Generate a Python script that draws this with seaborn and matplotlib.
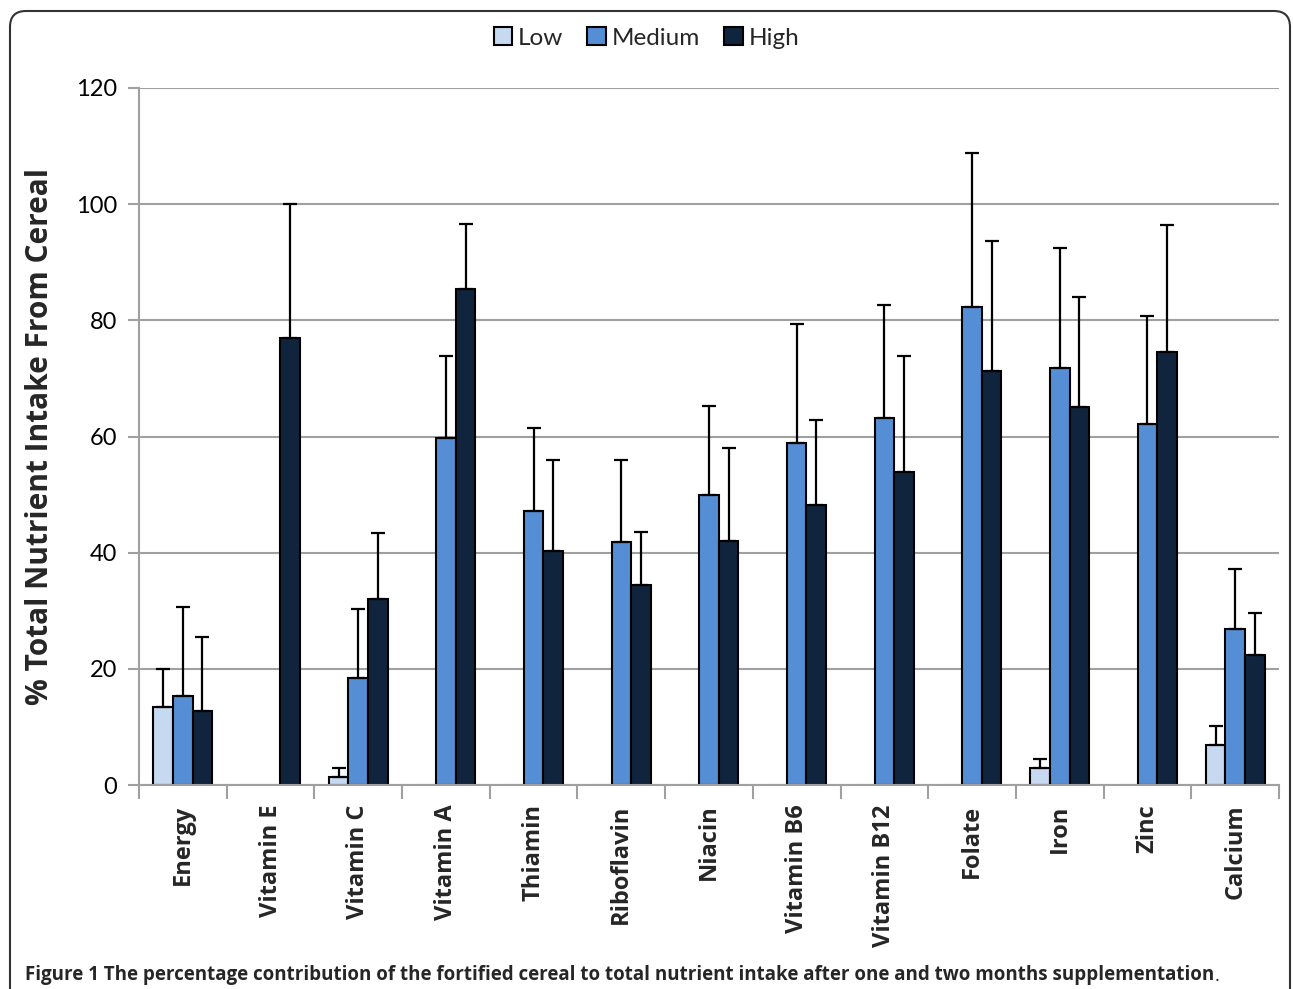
import numpy as np
import pandas as pd
import matplotlib
matplotlib.use("Agg")
import matplotlib.pyplot as plt
import seaborn as sns
from matplotlib.patches import FancyBboxPatch
from matplotlib.transforms import IdentityTransform
from matplotlib.ticker import FixedLocator

# ---- data ----
nutrients = ["Energy", "Vitamin E", "Vitamin C", "Vitamin A", "Thiamin", "Riboflavin",
             "Niacin", "Vitamin B6", "Vitamin B12", "Folate", "Iron", "Zinc", "Calcium"]
groups = ["Low", "Medium", "High"]
low_vals = [13.4, 0, 1.3, 0, 0, 0, 0, 0, 0, 0, 3.0, 0, 6.9]
low_err = [6.6, 0, 1.6, 0, 0, 0, 0, 0, 0, 0, 1.4, 0, 3.3]
med_vals = [15.3, 0, 18.5, 59.7, 47.2, 41.9, 49.9, 58.8, 63.1, 82.3, 71.8, 62.2, 26.8]
med_err = [15.3, 0, 11.8, 14.2, 14.3, 14.1, 15.4, 20.6, 19.6, 26.5, 20.7, 18.6, 10.4]
high_vals = [12.7, 77.0, 32.0, 85.4, 40.3, 34.4, 42.0, 48.2, 53.9, 71.3, 65.1, 74.5, 22.4]
high_err = [12.7, 23.0, 11.4, 11.2, 15.6, 9.2, 16.1, 14.6, 20.0, 22.4, 18.9, 21.9, 7.2]
y_ticks = [0, 20, 40, 60, 80, 100, 120]
y_label = "% Total Nutrient Intake From Cereal"
caption_bold = "Figure 1 The percentage contribution of the fortified cereal to total nutrient intake after one and two months supplementation"
caption_end = "."

colors = {"Low": "#C6D9F1", "Medium": "#558ED5", "High": "#10243E"}

rows = []
for g, vals, errs in [("Low", low_vals, low_err), ("Medium", med_vals, med_err), ("High", high_vals, high_err)]:
    for n, v, e in zip(nutrients, vals, errs):
        rows.append({"Nutrient": n, "Group": g, "Value": v, "Err": e})
df = pd.DataFrame(rows)

sns.set_theme(style="white")
plt.rcParams["font.family"] = ["Lato", "DejaVu Sans"]

fig = plt.figure(figsize=(12.93, 9.89), dpi=100)
ax = fig.add_axes([139/1293, 1-785/989, (1279-139)/1293, (785-88)/989])

sns.barplot(data=df, x="Nutrient", y="Value", hue="Group", order=nutrients, hue_order=groups,
            palette=colors, width=0.67, gap=0, errorbar=None, edgecolor="black", linewidth=1.5,
            saturation=1, ax=ax)

# zero-height bars show as faint grey dashes on the baseline
for cont in ax.containers:
    for patch in cont.patches:
        if patch.get_height() == 0:
            patch.set_edgecolor("#A0A0A0")

# error bars (upper only)
for gi, g in enumerate(groups):
    cont = ax.containers[gi]
    sub = df[df["Group"] == g].set_index("Nutrient").loc[nutrients]
    for patch, (v, e) in zip(cont.patches, zip(sub["Value"], sub["Err"])):
        if e <= 0:
            continue
        xc = patch.get_x() + patch.get_width() / 2
        ax.errorbar([xc], [v], yerr=[[0], [e]], fmt="none", ecolor="black",
                    elinewidth=1.6, capsize=5, capthick=1.6, zorder=3)

handles, labels = ax.get_legend_handles_labels()
if ax.get_legend() is not None:
    ax.get_legend().remove()

ax.set_ylim(0, 120)
ax.set_xlim(-0.5, len(nutrients) - 0.5)
ax.yaxis.set_major_locator(FixedLocator(y_ticks))
ax.grid(axis="y", color="#A0A0A0", linewidth=1.5)
ax.set_axisbelow(True)
for s in ["top", "right"]:
    ax.spines[s].set_visible(False)
for s in ["left", "bottom"]:
    ax.spines[s].set_color("#A0A0A0")
    ax.spines[s].set_linewidth(1.5)

ax.tick_params(axis="y", which="major", left=True, length=8, width=1.5, color="#A0A0A0",
               labelsize=17, pad=8, labelcolor="black")
ax.set_yticklabels([str(t) for t in y_ticks], fontfamily="Lato")

ax.set_xticks(range(len(nutrients)))
ax.set_xticklabels(nutrients, rotation=90, fontsize=17, fontweight="bold",
                   fontfamily="Open Sans", va="top", ha="center")
ax.tick_params(axis="x", which="major", length=0, pad=14)
ax.xaxis.set_minor_locator(FixedLocator(np.arange(-0.5, len(nutrients), 1.0)))
ax.tick_params(axis="x", which="minor", bottom=True, length=10, width=1.5, color="#A0A0A0")

ax.set_xlabel("")
ax.set_ylabel(y_label, fontsize=21.5, fontweight="bold", fontfamily="Open Sans")
ax.yaxis.set_label_coords((40 - 139) / 1140, 0.5)
ax.yaxis.label.set_va("center")

fig.legend(handles, labels, loc="center", bbox_to_anchor=(0.5, 1-38/989), ncol=3,
           frameon=False, handlelength=0.75, handleheight=0.75,
           handletextpad=0.25, columnspacing=1.0, prop={"family": "Lato", "size": 17.5})

# caption
t1 = fig.text(25/1293, 1-980/989, caption_bold, fontsize=13.5, fontweight="bold",
              fontfamily="Open Sans", ha="left", va="baseline")
ax.annotate(caption_end, xy=(1, 0), xycoords=t1, xytext=(0, 0), textcoords="offset points",
            fontsize=13.5, fontfamily="Open Sans", ha="left", va="bottom", annotation_clip=False)

# rounded frame
frame = FancyBboxPatch((10, -30), 1280, 1008, boxstyle="round,pad=0,rounding_size=16",
                       transform=IdentityTransform(), fill=False, ec="#333333", lw=1.5)
fig.add_artist(frame)

fig.savefig("out.png", dpi=100)
